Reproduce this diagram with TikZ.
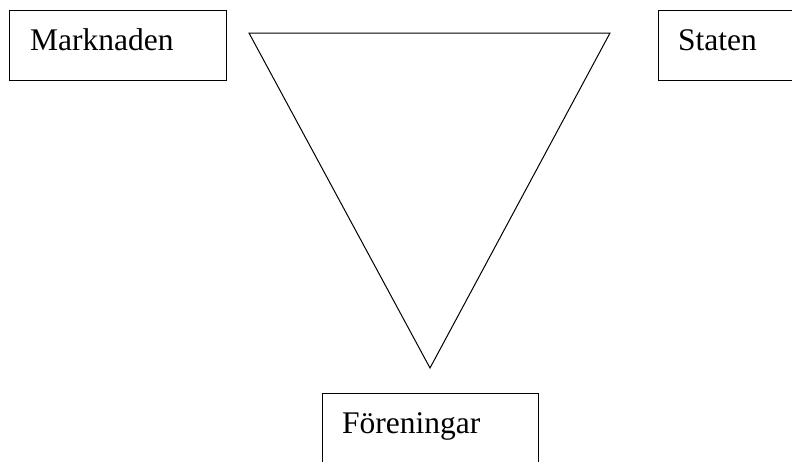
\documentclass[tikz,border=0pt]{standalone}
\usepackage{fontspec}
\setmainfont{Liberation Serif}
\begin{document}
\begin{tikzpicture}[x=1pt,y=-1pt,
  labelbox/.style={draw=black,line width=1pt},
  lbl/.style={anchor=base west,inner sep=0pt,font=\fontsize{31.5}{36}\selectfont}]
\useasboundingbox (0,0) rectangle (792,461);
\draw[labelbox] (9.5,10.5) rectangle (226,80.5);
\draw[labelbox] (658,10.5) rectangle (800,80.5);
\draw[labelbox] (322,393) rectangle (538,470);
\node[lbl] (mark) at (30,50.5) {Marknaden};
\node[lbl] (stat) at (678,50.5) {Staten};
\node[lbl] (foren) at (342,433) {Föreningar};
\coordinate (tl) at (249,33);
\coordinate (tr) at (610,33);
\coordinate (bt) at (430,368);
\draw[line width=1pt,line join=miter] (tl) -- (tr) -- (bt) -- cycle;
\end{tikzpicture}
\end{document}
